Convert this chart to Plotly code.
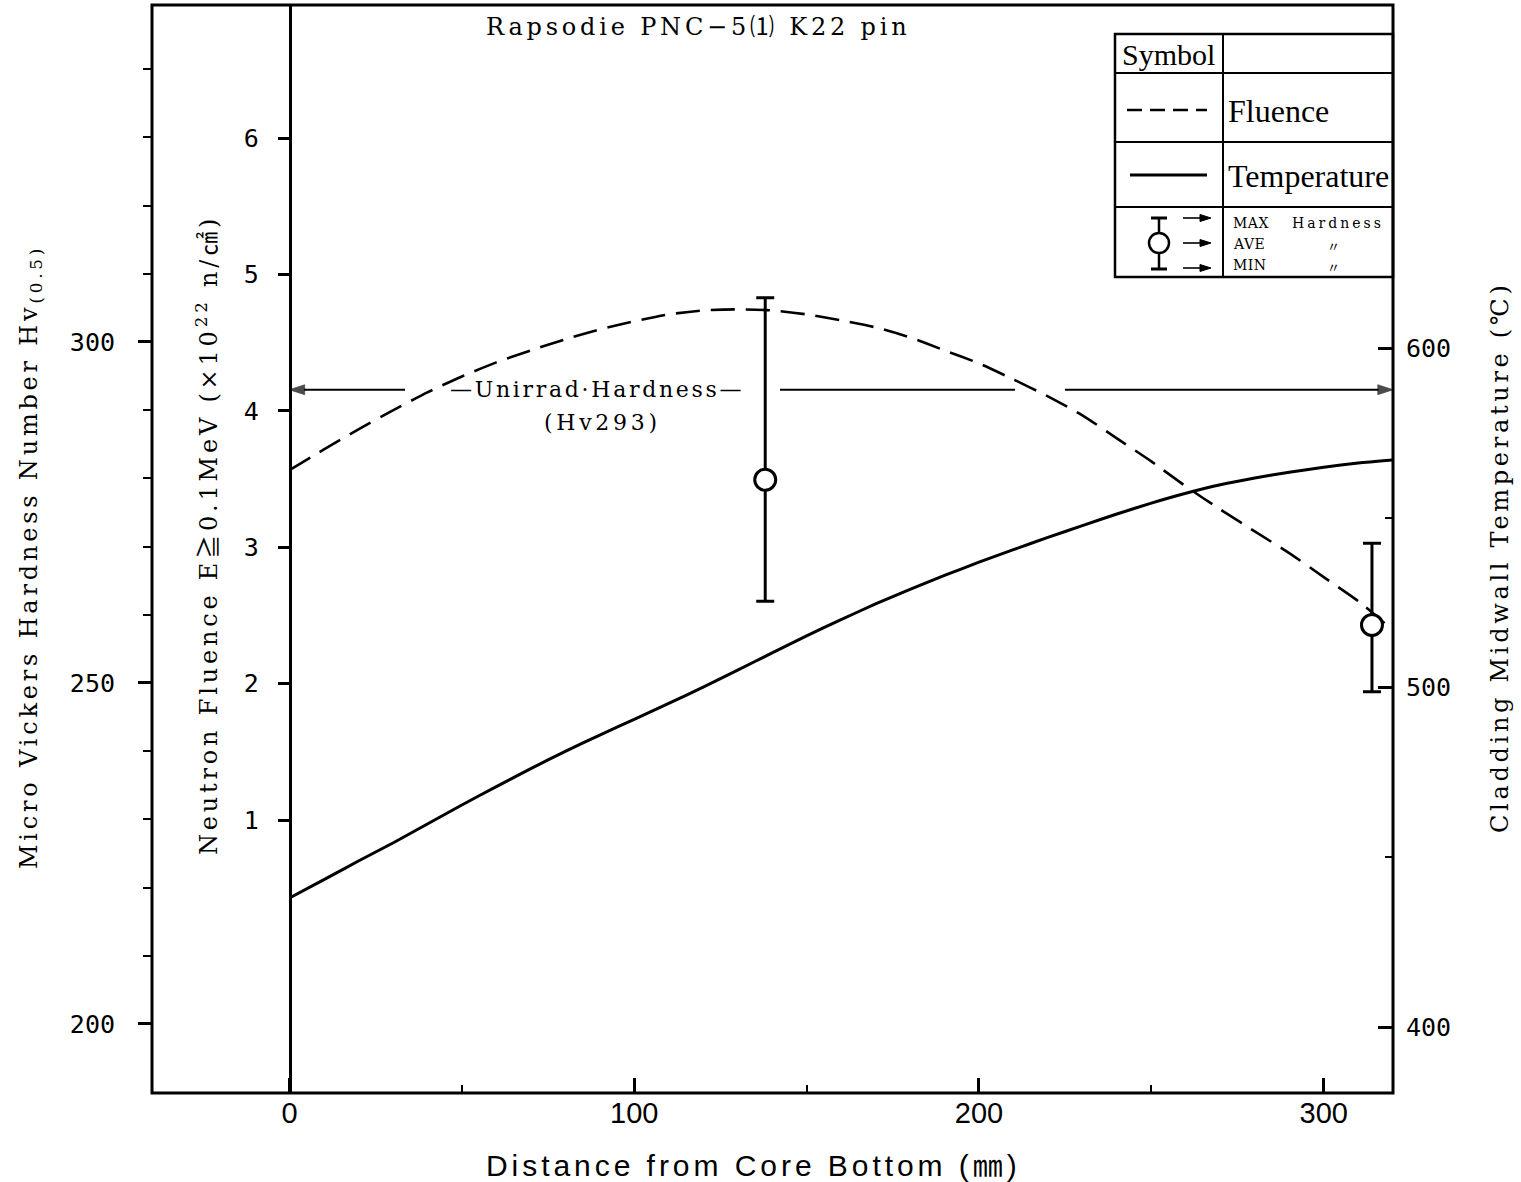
import plotly.graph_objects as go

# ---- data -------------------------------------------------------------
# axial position along the pin, mm from core bottom
distance_mm = [0, 10, 20, 30, 40, 50, 60, 70, 80, 90, 100, 110, 120, 130, 140, 150,
               160, 170, 180, 190, 200, 210, 220, 230, 240, 250, 260, 270, 280, 290,
               300, 310, 320]

# neutron fluence E>=0.1 MeV, 1e22 n/cm2
fluence_e22 = [3.566, 3.717, 3.864, 4.003, 4.135, 4.252, 4.355, 4.443, 4.524, 4.597,
               4.656, 4.707, 4.736, 4.744, 4.736, 4.707, 4.663, 4.612, 4.538, 4.443,
               4.348, 4.230, 4.106, 3.967, 3.798, 3.629, 3.446, 3.277, 3.116, 2.957,
               2.781, 2.605, 2.393]

# cladding midwall temperature, deg C
temperature_c = [438.0, 443.4, 448.9, 454.2, 459.8, 465.4, 470.8, 476.1, 481.2, 486.0,
                 490.6, 495.3, 500.1, 505.1, 510.2, 515.2, 520.0, 524.6, 528.9, 533.0,
                 536.9, 540.6, 544.2, 547.7, 551.1, 554.3, 557.2, 559.7, 561.7, 563.4,
                 564.9, 566.1, 567.0]

# micro Vickers hardness measurements
hardness_pos_mm = [138, 314]
hardness_max = [306.5, 270.5]
hardness_ave = [279.8, 258.5]
hardness_min = [262.0, 248.7]

UNIRRAD_HV = 293

x_ticks = [0, 100, 200, 300]
x_minor = [50, 150, 250]
hv_ticks = [200, 250, 300]
hv_minor = [210, 220, 230, 240, 260, 270, 280, 290, 310, 320, 330, 340]
fluence_ticks = [1, 2, 3, 4, 5, 6]
temp_ticks = [400, 500, 600]
temp_minor = [450, 550, 650]

# ---- geometry ---------------------------------------------------------
W, H = 1521, 1182
L, R, T, B = 152, 1393, 5, 1093
PW, PH = R - L, B - T

X_RANGE = [-39.88, 320.1]
HV_RANGE = [189.88, 349.41]
FL_RANGE = [-1.001, 6.975]
TC_RANGE = [380.56, 701.03]


def xp(px):
    return (px - L) / PW


def yp(py):
    return (B - py) / PH


def xdata(px):
    return X_RANGE[0] + (px - L) / PW * (X_RANGE[1] - X_RANGE[0])


def spaced(s, gap):
    return f'<span style="letter-spacing:{gap}px">{s}</span>'


SERIF = "Liberation Serif, Noto Sans CJK JP, serif"
DSERIF = "DejaVu Serif, Noto Sans CJK JP, serif"
SANS_MONO = "DejaVu Sans Mono, Noto Sans CJK JP, monospace"
SANS = "Liberation Sans, Noto Sans CJK JP, sans-serif"
BLACK = "black"

fig = go.Figure()

# temperature (base axis, right side)
fig.add_trace(go.Scatter(
    x=distance_mm, y=temperature_c, mode="lines", yaxis="y",
    line=dict(color=BLACK, width=3, shape="spline", smoothing=0.6), hoverinfo="skip"))

# fluence (inner left axis)
fig.add_trace(go.Scatter(
    x=distance_mm, y=fluence_e22, mode="lines", yaxis="y2",
    line=dict(color=BLACK, width=2.6, dash="24px,11px", shape="spline", smoothing=0.6),
    hoverinfo="skip"))

# unirradiated hardness reference line: arrow to each axis plus a middle piece
for seg, heads in [([xdata(405), 0.0], True),
                   ([xdata(780), xdata(1015)], False),
                   ([xdata(1065), X_RANGE[1]], True)]:
    fig.add_trace(go.Scatter(
        x=seg, y=[UNIRRAD_HV, UNIRRAD_HV], yaxis="y3",
        mode="lines+markers" if heads else "lines",
        line=dict(color=BLACK, width=2),
        marker=dict(symbol="arrow", size=[0, 16], angleref="previous", color=BLACK,
                    line=dict(color=BLACK, width=0.8)),
        cliponaxis=False, hoverinfo="skip"))

# hardness max / ave / min
fig.add_trace(go.Scatter(
    x=hardness_pos_mm, y=hardness_ave, mode="markers", yaxis="y3",
    error_y=dict(type="data", symmetric=False,
                 array=[mx - av for mx, av in zip(hardness_max, hardness_ave)],
                 arrayminus=[av - mn for av, mn in zip(hardness_ave, hardness_min)],
                 thickness=3, width=9, color=BLACK),
    marker=dict(symbol="circle", size=21, color="white",
                line=dict(color=BLACK, width=3)),
    hoverinfo="skip"))

tick_font = dict(family=SANS_MONO, size=25, color=BLACK)

fig.update_layout(
    width=W, height=H,
    margin=dict(l=L, r=W - R, t=T, b=H - B, pad=0),
    paper_bgcolor="white", plot_bgcolor="white",
    showlegend=False,
    xaxis=dict(
        range=X_RANGE, domain=[0, 1], showgrid=False, zeroline=False, showline=False,
        tickmode="array", tickvals=x_ticks, ticks="inside", ticklen=15, tickwidth=2.5,
        tickcolor=BLACK, ticklabelstandoff=0,
        tickfont=dict(family=SANS, size=29, color=BLACK),
        minor=dict(tickmode="array", tickvals=x_minor, ticks="inside", ticklen=8,
                   tickwidth=2, tickcolor=BLACK, showgrid=False),
    ),
    yaxis=dict(
        range=TC_RANGE, side="right", anchor="x", showgrid=False, zeroline=False,
        showline=False, tickmode="array", tickvals=temp_ticks, ticks="inside",
        ticklen=15, tickwidth=2.5, tickcolor=BLACK, ticklabelstandoff=12,
        tickfont=tick_font,
        minor=dict(tickmode="array", tickvals=temp_minor, ticks="inside", ticklen=8,
                   tickwidth=2, tickcolor=BLACK, showgrid=False),
    ),
    yaxis2=dict(
        range=FL_RANGE, overlaying="y", anchor="free", position=xp(289.5), side="left",
        showgrid=False, zeroline=False, showline=True, linecolor=BLACK, linewidth=2.5,
        tickmode="array", tickvals=fluence_ticks, ticks="outside", ticklen=11,
        tickwidth=2.5, tickcolor=BLACK, ticklabelstandoff=14, tickfont=tick_font,
    ),
    yaxis3=dict(
        range=HV_RANGE, overlaying="y", anchor="x", side="left", showgrid=False,
        zeroline=False, showline=False, tickmode="array", tickvals=hv_ticks,
        ticks="outside", ticklen=13, tickwidth=2.5, tickcolor=BLACK,
        ticklabelstandoff=18, tickfont=tick_font,
        minor=dict(tickmode="array", tickvals=hv_minor, ticks="outside", ticklen=8,
                   tickwidth=2, tickcolor=BLACK, showgrid=False),
    ),
)

annotations = []


def text(x, y, s, font, xanchor="center", yanchor="middle", angle=0, xref="paper",
         yref="paper", **kw):
    annotations.append(dict(x=x, y=y, xref=xref, yref=yref, text=s, showarrow=False,
                            font=font, xanchor=xanchor, yanchor=yanchor,
                            textangle=angle, **kw))


# titles
text(xp(698), yp(27), spaced("Rapsodie PNC−5⑴ K22 pin", 3.8),
     dict(family=DSERIF, size=24, color=BLACK))
text(xp(753), yp(1165), spaced("Distance from Core Bottom (㎜)", 3.95),
     dict(family=SANS, size=30, color=BLACK))
text(xp(30), yp(557), spaced("Micro Vickers Hardness Number Hv<sub>(0.5)</sub>", 3.8),
     dict(family=DSERIF, size=24, color=BLACK), angle=-90)
text(xp(207), yp(535), spaced("Neutron Fluence E≧0.1MeV (×10<sup>22</sup> n/㎠)", 3.8),
     dict(family=DSERIF, size=24, color=BLACK), angle=-90)
text(xp(1500), yp(557), spaced("Cladding Midwall Temperature (℃)", 3.7),
     dict(family=DSERIF, size=24, color=BLACK), angle=-90)

# unirradiated hardness label
text(xdata(597), UNIRRAD_HV, spaced("—Unirrad·Hardness—", 2.7),
     dict(family=DSERIF, size=22, color=BLACK), xref="x", yref="y3")
text(xdata(602), UNIRRAD_HV, spaced(f"(Hv{UNIRRAD_HV})", 3.7),
     dict(family=DSERIF, size=22, color=BLACK), xref="x", yref="y3", yshift=-33)

# symbol table texts
text(xp(1120), yp(55), "Symbol", dict(family=SERIF, size=30, color=BLACK), xanchor="left")
text(xp(1226), yp(111), "Fluence", dict(family=SERIF, size=32, color=BLACK), xanchor="left")
text(xp(1226), yp(176), "Temperature", dict(family=SERIF, size=32, color=BLACK),
     xanchor="left")
small = dict(family=DSERIF, size=14, color=BLACK)
text(xp(1231), yp(223), spaced("MAX", 0.5), small, xanchor="left")
text(xp(1290), yp(223), spaced("Hardness", 3.0), small, xanchor="left")
text(xp(1231), yp(244), spaced("AVE", 0.5), small, xanchor="left")
text(xp(1231), yp(265), spaced("MIN", 0.5), small, xanchor="left")
ditto = dict(family="Noto Sans CJK JP", size=13, color=BLACK)
text(xp(1333), yp(245), "〃", ditto)
text(xp(1333), yp(266), "〃", ditto)

fig.update_layout(annotations=annotations)

shapes = []


def line(x0, y0, x1, y1, width=2, dash=None):
    d = dict(type="line", xref="paper", yref="paper", x0=xp(x0), y0=yp(y0),
             x1=xp(x1), y1=yp(y1), line=dict(color=BLACK, width=width), layer="above")
    if dash:
        d["line"]["dash"] = dash
    shapes.append(d)


shapes.append(dict(type="rect", xref="paper", yref="paper", x0=xp(1115), x1=xp(R),
                   y0=yp(277), y1=yp(34), fillcolor="white",
                   line=dict(color=BLACK, width=2.5), layer="above"))
for ypx in [73, 142, 207]:
    line(1115, ypx, R, ypx, width=2)
line(1223, 34, 1223, 277, width=2)
line(1127, 110, 1207, 110, width=2.5, dash="15px,8px")
line(1130, 175, 1207, 175, width=3)
line(1159, 218, 1159, 269, width=2.5)
line(1151, 218, 1167, 218, width=3)
line(1151, 269, 1167, 269, width=3)
shapes.append(dict(type="circle", xref="paper", yref="paper", x0=xp(1149), x1=xp(1169),
                   y0=yp(253), y1=yp(233), fillcolor="white",
                   line=dict(color=BLACK, width=2.5), layer="above"))

# small pointer arrows in the symbol table
for ypx in [218, 243, 268]:
    line(1183, ypx, 1203, ypx, width=1.6)
    path = (f"M {xp(1211)},{yp(ypx)} L {xp(1200)},{yp(ypx - 3.5)} "
            f"L {xp(1200)},{yp(ypx + 3.5)} Z")
    shapes.append(dict(type="path", xref="paper", yref="paper", path=path,
                       fillcolor=BLACK, line=dict(color=BLACK, width=1), layer="above"))

# plot frame
shapes.append(dict(type="rect", xref="paper", yref="paper", x0=0, x1=1, y0=0, y1=1,
                   line=dict(color=BLACK, width=3), layer="above"))

fig.update_layout(shapes=shapes)

fig.write_html("out.html", config={"displayModeBar": False})
